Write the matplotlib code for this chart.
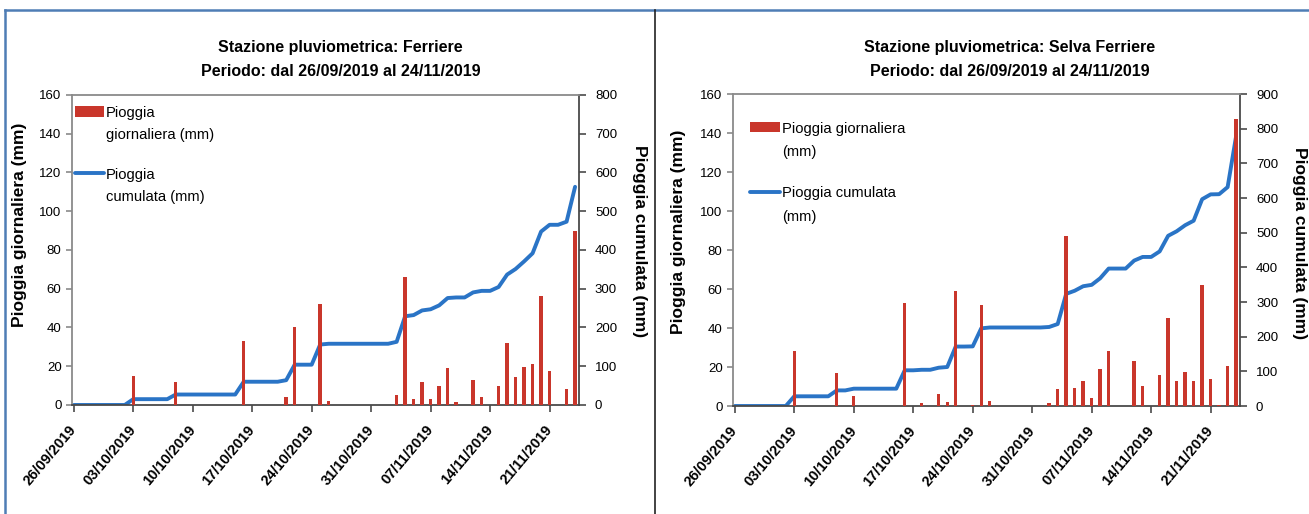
import numpy as np
import pandas as pd
import matplotlib
matplotlib.use("Agg")
import matplotlib.pyplot as plt
import matplotlib.dates as mdates
from matplotlib.lines import Line2D

plt.rcParams['font.family'] = ['Liberation Sans', 'DejaVu Sans']

# Periodo 26/09/2019 - 24/11/2019, un valore al giorno
giorni = pd.date_range("2019-09-26", "2019-11-24", freq="D")

# Pioggia giornaliera (mm) - Ferriere
pioggia_ferriere = [
    0, 0, 0, 0, 0, 0, 0, 15, 0, 0,
    0, 0, 12, 0, 0, 0, 0, 0, 0, 0,
    33, 0, 0, 0, 0, 4, 40, 0, 0, 52,
    2, 0, 0, 0, 0, 0, 0, 0, 5, 66,
    3, 12, 3, 10, 19, 1.5, 0, 13, 4, 0,
    10, 32, 14.5, 19.5, 21, 56, 17.5, 0, 8, 90,
]

# Pioggia giornaliera (mm) - Selva Ferriere
pioggia_selva = [
    0, 0, 0, 0, 0, 0, 0, 28, 0, 0,
    0, 0, 17, 0, 5, 0, 0, 0, 0, 0,
    53, 0, 1.5, 0, 6, 2, 59, 0, 0.5, 52,
    2.5, 0, 0, 0, 0, 0, 0, 1.5, 8.5, 87,
    9, 13, 4, 19, 28, 0, 0, 23, 10.5, 0,
    16, 45, 13, 17.5, 13, 62, 14, 0.5, 20.5, 147,
]

stazioni = ["Ferriere", "Selva Ferriere"]
periodo = "Periodo: dal 26/09/2019 al 24/11/2019"
max_cumulata = [800, 900]
etichette_legenda = [
    ["Pioggia\ngiornaliera (mm)", "Pioggia\ncumulata (mm)"],
    ["Pioggia giornaliera\n(mm)", "Pioggia cumulata\n(mm)"],
]

ROSSO = "#C9362B"
BLU = "#2A74C6"
GRIGIO = "#8A8A8A"
SCURO = "#4A4A4A"

fig = plt.figure(figsize=(13.09, 5.14), dpi=100)

# cornice del documento
fig.add_artist(Line2D([0.0038, 1], [0.9805, 0.9805], color="#4F7DB5", lw=1.8,
                      transform=fig.transFigure))
fig.add_artist(Line2D([0.0038, 0.0038], [0, 0.9805], color="#4F7DB5", lw=1.8,
                      transform=fig.transFigure))
fig.add_artist(Line2D([0.5004, 0.5004], [0, 0.9805], color="#222222", lw=1.2,
                      transform=fig.transFigure))

posizioni = [[0.055, 0.2121, 0.3873, 0.6031], [0.560, 0.2101, 0.3873, 0.6070]]
x_titoli = [0.260, 0.7716]
coord_ylabel = [[(-0.1026, 0.58), (1.120, 0.529)], [(-0.108, 0.558), (1.118, 0.522)]]
ancora_legenda = [(0.005, 0.963), (0.034, 0.911)]
interlinea = [1.7, 1.85]
spaziatura = [1.75, 1.85]

for i, pioggia in enumerate([pioggia_ferriere, pioggia_selva]):
    ax = fig.add_axes(posizioni[i])
    ax2 = ax.twinx()
    # barre sopra la linea
    ax.set_zorder(ax2.get_zorder() + 1)
    ax.patch.set_visible(False)

    barre = ax.bar(giorni, pioggia, width=0.4, color=ROSSO, zorder=3)
    linea, = ax2.plot(giorni, np.cumsum(pioggia), color=BLU, lw=2.8,
                      solid_joinstyle="round", solid_capstyle="round")

    ax.set_xlim(giorni[0] - pd.Timedelta(hours=5), giorni[-1] + pd.Timedelta(hours=11))
    ax.set_ylim(0, 160)
    ax.set_yticks(np.arange(0, 161, 20))
    ax2.set_ylim(0, max_cumulata[i])
    ax2.set_yticks(np.arange(0, max_cumulata[i] + 1, 100))

    ax.set_xticks(giorni[::7])
    ax.xaxis.set_major_formatter(mdates.DateFormatter("%d/%m/%Y"))
    ax.tick_params(axis="x", direction="out", length=5, width=1.2, color=SCURO,
                   pad=11, labelsize=10.5)
    plt.setp(ax.get_xticklabels(), rotation=50, ha="right", va="center",
             rotation_mode="anchor", fontweight="bold")
    ax.tick_params(axis="y", direction="out", length=4, width=1.2, color=GRIGIO,
                   pad=3.5, labelsize=9.5)
    ax2.tick_params(axis="y", direction="out", length=5, width=1.2, color=SCURO,
                    pad=6.5, labelsize=9.5)

    for lato in ["left", "top"]:
        ax.spines[lato].set_color(GRIGIO)
        ax.spines[lato].set_linewidth(1.3)
    ax.spines["bottom"].set_color(SCURO)
    ax.spines["bottom"].set_linewidth(1.3)
    ax.spines["right"].set_visible(False)
    for lato in ["left", "top", "bottom"]:
        ax2.spines[lato].set_visible(False)
    ax2.spines["right"].set_color(SCURO)
    ax2.spines["right"].set_linewidth(1.3)

    ax.set_ylabel("Pioggia giornaliera (mm)", fontsize=12.5, fontweight="bold",
                  va="center", ha="center")
    ax.yaxis.set_label_coords(*coord_ylabel[i][0])
    ax2.set_ylabel("Pioggia cumulata (mm)", fontsize=12.5, fontweight="bold",
                   rotation=270, va="center", ha="center", rotation_mode="anchor")
    ax2.yaxis.set_label_coords(*coord_ylabel[i][1])

    fig.text(x_titoli[i], 0.885,
             "Stazione pluviometrica: " + stazioni[i] + "\n" + periodo,
             ha="center", va="center", fontsize=11.5, fontweight="bold",
             linespacing=1.75)

    leg = ax.legend([barre, linea], etichette_legenda[i], loc="upper left",
                    bbox_to_anchor=ancora_legenda[i], borderaxespad=0, borderpad=0,
                    frameon=False, fontsize=10.6, handlelength=2.0,
                    handletextpad=0.15, labelspacing=spaziatura[i])
    for t in leg.get_texts():
        t.set_linespacing(interlinea[i])
    # simbolo allineato alla prima riga dell'etichetta
    for colonna in leg._legend_handle_box.get_children():
        for voce in colonna.get_children():
            voce.align = "top"

fig.savefig("out.png", dpi=100)
